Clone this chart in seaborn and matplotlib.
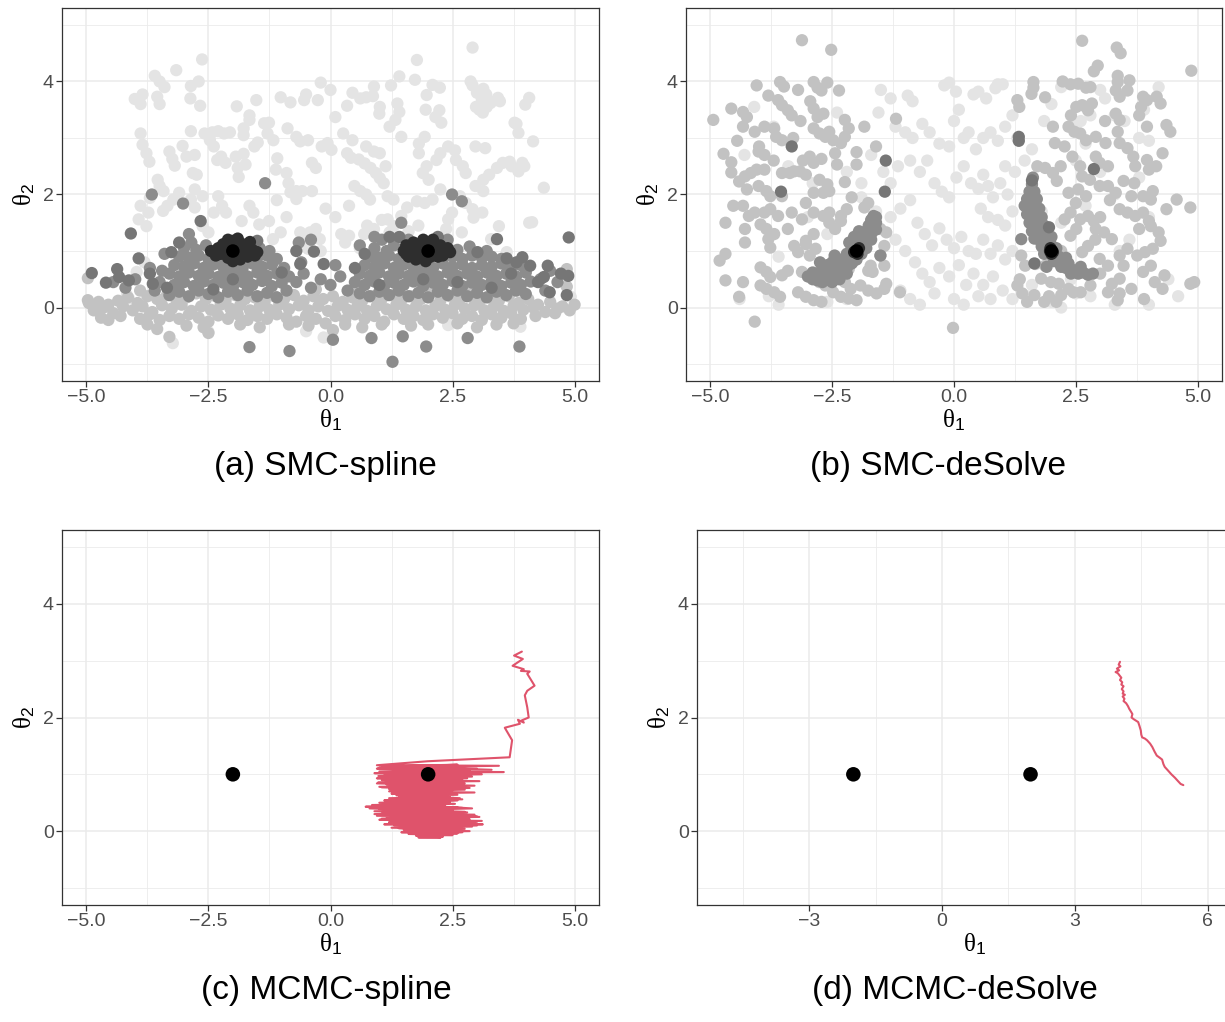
import numpy as np
import pandas as pd
import matplotlib
matplotlib.use("Agg")
import matplotlib.pyplot as plt
import seaborn as sns
from matplotlib.ticker import FixedLocator, FuncFormatter

# ---------------------------------------------------------------------------
# Particle clouds, SMC-spline (one list per SMC generation)
# ---------------------------------------------------------------------------
smc_spline_gen1 = [
    (2.91, 4.60), (-2.63, 4.39), (-3.16, 4.20), (1.77, 4.38), (-3.6, 4.1), (-3.5, 4.0), (-3.4, 3.9),
    (-2.7, 4.0), (-2.86, 3.92), (-0.2, 3.98), (0.0, 3.85), (1.41, 4.09), (1.24, 3.93), (1.73, 4.03),
    (2.09, 3.94), (2.24, 3.89), (2.87, 4.0), (2.91, 3.93), (3.0, 3.8), (3.13, 3.87), (3.19, 3.77),
    (3.43, 3.71), (3.47, 3.65), (4.07, 3.71), (3.99, 3.59), (-4.01, 3.69), (-3.85, 3.77), (-3.89, 3.6),
    (-3.55, 3.73), (-3.5, 3.6), (-2.87, 3.7), (-2.67, 3.57), (-1.92, 3.56), (-1.52, 3.67), (-1.02, 3.72),
    (-0.82, 3.63), (-0.5, 3.77), (-0.54, 3.67), (-0.26, 3.67), (0.34, 3.57), (0.45, 3.8), (0.61, 3.7),
    (0.73, 3.72), (0.87, 3.74), (0.89, 3.91), (1.01, 3.55), (1.0, 3.43), (1.37, 3.61), (1.41, 3.46),
    (1.33, 3.32), (1.97, 3.76), (1.95, 3.5), (2.15, 3.37), (2.27, 3.27), (2.23, 3.49), (2.98, 3.55),
    (3.05, 3.5), (3.12, 3.45), (3.2, 3.55), (3.28, 3.62), (3.1, 3.68), (3.77, 3.27), (3.81, 3.25),
    (3.85, 3.09), (4.15, 2.94), (3.93, 2.56), (3.97, 2.5), (3.85, 2.41), (3.67, 2.58), (3.71, 2.5),
    (4.37, 2.12), (4.07, 1.5), (4.13, 1.51), (-3.89, 3.08), (-3.85, 2.88), (-3.77, 2.73), (-3.71, 2.58),
    (-3.3, 2.76), (-3.24, 2.63), (-3.19, 2.51), (-3.03, 2.86), (-2.95, 2.67), (-2.78, 2.7), (-2.86, 3.12),
    (-2.58, 3.08), (-2.42, 3.1), (-2.3, 3.12), (-2.18, 3.08), (-2.06, 3.1), (-2.47, 2.96), (-2.39, 2.85),
    (-2.32, 2.61), (-2.24, 2.67), (-2.15, 2.56), (-1.94, 2.67), (-1.78, 2.72), (-1.74, 2.53), (-1.9, 2.47),
    (-1.88, 2.31), (-1.78, 3.17), (-1.78, 3.05), (-1.66, 3.32), (-1.66, 3.4), (-1.36, 3.26), (-1.26, 3.27),
    (-1.29, 3.08), (-1.17, 2.96), (-1.56, 2.85), (-1.49, 2.92), (-1.09, 2.64), (-1.12, 2.44), (-0.88, 3.17),
    (-0.7, 3.02), (-0.62, 2.94), (-0.46, 2.96), (-0.9, 2.38), (-0.86, 2.2), (-0.82, 2.04), (-0.7, 2.06),
    (-0.58, 2.06), (-0.38, 2.06), (-0.7, 1.92), (-0.38, 2.56), (-0.3, 2.47), (-0.18, 2.85), (-0.06, 2.91),
    (0.02, 2.79), (0.1, 3.37), (0.26, 3.08), (0.45, 2.96), (0.73, 2.85), (0.89, 2.76), (1.01, 2.73),
    (0.34, 2.73), (0.42, 2.65), (0.58, 2.62), (0.7, 2.55), (0.82, 2.47), (0.93, 2.38), (1.13, 2.5),
    (1.01, 2.29), (1.09, 2.2), (1.17, 1.97), (1.29, 1.91), (0.49, 2.15), (0.61, 2.06), (0.73, 2.0),
    (0.81, 1.91), (0.38, 1.8), (1.21, 3.2), (1.45, 3.02), (1.81, 2.9), (1.93, 3.02), (1.81, 2.73),
    (1.97, 2.5), (1.89, 2.38), (2.01, 2.26), (2.17, 2.61), (2.25, 2.73), (2.41, 2.85), (2.55, 2.78),
    (2.57, 2.61), (2.71, 2.5), (2.77, 2.38), (2.97, 2.85), (3.17, 2.82), (2.97, 2.15), (3.13, 2.06),
    (3.13, 2.26), (3.25, 2.35), (3.41, 2.47), (3.53, 2.56), (2.65, 1.97), (2.77, 1.85), (2.91, 1.74),
    (2.49, 1.68), (2.41, 1.56), (2.37, 1.39), (2.69, 1.33), (2.93, 1.59), (3.11, 1.68), (3.29, 1.21),
    (3.45, 1.44), (3.61, 0.98), (3.89, 0.27), (2.25, 2.09), (2.09, 1.91), (1.93, 1.85), (1.77, 1.88),
    (1.57, 1.77), (1.45, 1.62), (1.29, 1.44), (1.17, 1.56), (1.21, 1.33), (0.89, 1.39), (0.69, 1.3),
    (0.22, 1.3), (0.38, 1.27), (-0.3, 1.39), (-0.42, 1.33), (-0.62, 1.33), (-0.22, 1.21), (-0.46, 1.04),
    (-1.02, 1.33), (-1.18, 1.21), (-1.26, 1.53), (-1.58, 1.68), (-1.46, 1.47), (-1.66, 1.8), (-1.82, 1.53),
    (-2.14, 1.68), (-2.22, 1.8), (-2.39, 1.68), (-2.3, 1.97), (-2.62, 1.44), (-2.5, 1.33), (-2.78, 1.77),
    (-2.86, 1.91), (-2.78, 2.09), (-2.62, 1.97), (-2.82, 2.38), (-2.74, 2.35), (-3.1, 2.03), (-3.22, 1.91),
    (-3.34, 1.8), (-3.43, 1.71), (-3.5, 2.15), (-3.42, 2.06), (-3.54, 2.26), (-3.7, 1.94), (-3.73, 1.68),
    (-3.77, 1.44), (-3.89, 1.8), (-3.93, 1.56), (-3.81, 0.8), (-3.97, 0.63), (-4.13, 0.16), (-4.17, 0.22),
    (-3.23, -0.63), (-2.5, -0.43), (-0.5, -0.42), (-0.14, -0.53), (2.41, -0.31), (2.49, -0.13),
    (3.89, -0.34), (4.92, 0.19), (1.05, 1.55), (0.75, 1.45), (0.3, 1.15), (-0.2, 1.0), (-0.55, 1.15),
    (0.1, 1.6), (-0.1, 1.75), (0.6, 1.05), (-0.9, 1.6), (-1.1, 1.9), (1.6, 1.35), (1.8, 1.45),
]

smc_spline_gen2 = [
    (-4.95, 0.08), (-4.75, 0.1), (-4.55, 0.05), (-4.35, 0.12), (-4.15, 0.18), (-3.95, 0.08), (-3.75, 0.2),
    (-3.55, 0.15), (-3.35, 0.22), (-3.15, 0.12), (-2.95, 0.18), (-2.75, 0.25), (-2.55, 0.15), (-2.35, 0.2),
    (-2.15, 0.12), (-1.95, 0.22), (-1.75, 0.15), (-1.55, 0.18), (-1.35, 0.1), (-1.15, 0.2), (-0.95, 0.15),
    (-0.75, 0.22), (-0.55, 0.12), (-0.35, 0.2), (-0.15, 0.15), (0.05, 0.2), (0.25, 0.1), (0.45, 0.18),
    (0.65, 0.12), (0.85, 0.2), (1.05, 0.15), (1.25, 0.22), (1.45, 0.12), (1.65, 0.2), (1.85, 0.15),
    (2.05, 0.25), (2.25, 0.12), (2.45, 0.2), (2.65, 0.15), (2.85, 0.22), (3.05, 0.1), (3.25, 0.18),
    (3.45, 0.12), (3.65, 0.2), (3.85, 0.08), (4.05, 0.15), (4.25, 0.05), (4.5, 0.1), (4.75, 0.02),
    (5.0, 0.05),
    (-4.85, -0.05), (-4.65, 0.0), (-4.45, -0.1), (-4.25, 0.02), (-4.05, -0.05), (-3.85, 0.02),
    (-3.65, -0.08), (-3.45, 0.04), (-3.25, -0.02), (-3.05, 0.05), (-2.85, -0.06), (-2.65, 0.02),
    (-2.45, -0.04), (-2.25, 0.05), (-2.05, -0.02), (-1.85, 0.04), (-1.65, -0.05), (-1.45, 0.02),
    (-1.25, -0.04), (-1.05, 0.05), (-0.85, -0.03), (-0.65, 0.04), (-0.45, -0.05), (-0.25, 0.02),
    (-0.05, -0.06), (0.15, 0.03), (0.35, -0.04), (0.55, 0.02), (0.75, -0.06), (0.95, 0.03), (1.15, -0.03),
    (1.35, 0.05), (1.55, -0.04), (1.75, 0.02), (1.95, -0.05), (2.15, 0.03), (2.35, -0.04), (2.55, 0.05),
    (2.75, -0.02), (2.95, 0.04), (3.15, -0.05), (3.35, 0.02), (3.55, -0.06), (3.75, 0.03), (3.95, -0.04),
    (4.15, 0.0), (4.4, -0.08), (4.65, -0.02), (4.9, -0.05),
    (-4.7, -0.18), (-4.3, -0.15), (-3.9, -0.2), (-3.7, -0.12), (-3.5, -0.22), (-3.3, -0.15), (-3.1, -0.2),
    (-2.9, -0.12), (-2.7, -0.18), (-2.5, -0.25), (-2.3, -0.14), (-2.1, -0.2), (-1.9, -0.12), (-1.7, -0.22),
    (-1.5, -0.15), (-1.3, -0.2), (-1.1, -0.12), (-0.9, -0.18), (-0.7, -0.25), (-0.5, -0.15), (-0.3, -0.2),
    (-0.1, -0.28), (0.1, -0.15), (0.3, -0.22), (0.5, -0.12), (0.7, -0.2), (0.9, -0.15), (1.1, -0.25),
    (1.3, -0.12), (1.5, -0.2), (1.7, -0.15), (1.9, -0.22), (2.1, -0.12), (2.3, -0.18), (2.5, -0.1),
    (2.7, -0.2), (2.9, -0.15), (3.1, -0.22), (3.3, -0.12), (3.5, -0.18), (3.7, -0.1), (3.9, -0.2),
    (4.2, -0.15), (4.6, -0.1),
    (-4.55, -0.22), (-3.75, -0.3), (-3.55, -0.38), (-2.95, -0.32), (-2.6, -0.35), (-1.85, -0.3),
    (-1.45, -0.35), (-0.85, -0.3), (-0.45, -0.32), (0.05, -0.4), (0.3, -0.3), (0.65, -0.35), (1.05, -0.3),
    (1.65, -0.32), (2.0, -0.3), (2.6, -0.28), (3.0, -0.35), (3.4, -0.3), (3.75, -0.28), (-3.3, -0.52),
    (-2.5, -0.45), (-4.97, 0.52), (-4.97, 0.13), (4.86, 0.57), (4.84, 0.37), (4.84, 0.68), (-3.9, 0.3),
    (-0.3, 0.32), (0.5, 0.35), (2.9, 0.35),
]

smc_spline_gen3 = [
    (-3.3, 0.22), (-3.1, 0.28), (-2.9, 0.2), (-2.7, 0.3), (-2.5, 0.24), (-2.3, 0.18), (-2.1, 0.28),
    (-1.9, 0.22), (-1.7, 0.3), (-1.5, 0.2), (-1.3, 0.26), (-1.1, 0.18), (-0.9, 0.3),
    (-3.2, 0.4), (-3.0, 0.45), (-2.8, 0.38), (-2.6, 0.46), (-2.4, 0.4), (-2.2, 0.44), (-2.0, 0.36),
    (-1.8, 0.45), (-1.6, 0.4), (-1.4, 0.47), (-1.2, 0.38), (-1.0, 0.44),
    (-3.3, 0.6), (-3.1, 0.55), (-2.9, 0.62), (-2.7, 0.56), (-2.5, 0.6), (-2.3, 0.54), (-2.1, 0.62),
    (-1.9, 0.58), (-1.7, 0.55), (-1.5, 0.62), (-1.3, 0.56), (-1.1, 0.6), (-0.85, 0.55),
    (-3.2, 0.75), (-3.0, 0.72), (-2.8, 0.78), (-2.6, 0.7), (-2.4, 0.76), (-2.2, 0.72), (-2.0, 0.75),
    (-1.8, 0.7), (-1.6, 0.78), (-1.4, 0.72), (-1.2, 0.76), (-0.95, 0.7),
    (-3.1, 0.9), (-2.9, 0.88), (-2.7, 0.92), (-2.5, 0.86), (-2.3, 0.9), (-1.5, 0.88), (-1.3, 0.92),
    (-1.1, 0.86), (-3.0, 1.05), (-2.75, 1.02), (-2.55, 1.1), (-1.45, 1.05), (-1.25, 1.0), (-2.85, 1.15),
    (0.6, 0.25), (0.8, 0.2), (1.0, 0.28), (1.2, 0.22), (1.4, 0.3), (1.6, 0.2), (1.8, 0.26), (2.0, 0.18),
    (2.2, 0.28), (2.4, 0.22), (2.6, 0.3), (2.8, 0.2), (3.0, 0.26), (3.2, 0.18), (3.4, 0.28), (3.6, 0.22),
    (3.8, 0.3), (4.0, 0.24),
    (0.5, 0.45), (0.7, 0.4), (0.9, 0.46), (1.1, 0.38), (1.3, 0.44), (1.5, 0.4), (1.7, 0.46), (1.9, 0.38),
    (2.1, 0.44), (2.3, 0.4), (2.5, 0.47), (2.7, 0.38), (2.9, 0.44), (3.1, 0.4), (3.3, 0.46), (3.5, 0.38),
    (3.7, 0.44), (3.9, 0.4), (4.1, 0.46),
    (0.6, 0.6), (0.8, 0.56), (1.0, 0.62), (1.2, 0.55), (1.4, 0.6), (1.6, 0.56), (1.8, 0.62), (2.0, 0.58),
    (2.2, 0.55), (2.4, 0.62), (2.6, 0.56), (2.8, 0.6), (3.0, 0.55), (3.2, 0.62), (3.4, 0.56), (3.6, 0.6),
    (3.8, 0.55), (4.0, 0.62),
    (0.7, 0.75), (0.9, 0.72), (1.1, 0.78), (1.3, 0.7), (1.5, 0.76), (1.7, 0.72), (1.9, 0.75), (2.1, 0.7),
    (2.3, 0.78), (2.5, 0.72), (2.7, 0.76), (2.9, 0.7), (3.1, 0.75), (3.3, 0.72), (3.5, 0.78), (3.7, 0.7),
    (3.9, 0.75),
    (0.8, 0.9), (1.0, 0.88), (1.2, 0.92), (1.4, 0.86), (2.5, 0.9), (2.7, 0.86), (2.9, 0.92), (3.1, 0.88),
    (3.3, 0.9), (3.5, 0.86), (0.9, 1.05), (1.15, 1.0), (1.3, 1.1), (2.6, 1.02), (2.85, 1.08), (3.2, 1.0),
    (1.05, 1.2),
    (-3.5, 0.45), (-3.6, 0.3), (-3.45, 0.65), (-3.7, 0.7), (-4.0, 0.5), (-4.2, 0.35), (-4.45, 0.45),
    (-0.7, 0.45), (-0.55, 0.6), (-0.4, 0.35), (-0.2, 0.5), (0.0, 0.4), (0.2, 0.55), (0.35, 0.3),
    (-0.6, 0.8), (0.1, 0.75), (4.3, 0.5), (4.4, 0.3), (4.5, 0.65), (4.65, 0.45), (-0.65, 1.15),
    (-0.4, 1.2), (0.6, 1.1), (0.9, 1.25), (1.6, 1.2), (2.4, 1.2), (-3.4, 0.95), (-2.9, 1.3),
    (-1.66, -0.7), (-0.84, -0.77), (0.05, -0.57), (0.84, -0.54), (1.27, -0.96), (1.48, -0.51),
    (1.96, -0.69), (2.81, -0.54), (3.87, -0.69), (2.49, 2.0), (2.69, 1.88), (1.45, 1.5), (-1.34, 2.2),
    (-3.02, 1.84), (-3.66, 2.0),
]

smc_spline_gen4 = [
    (-4.89, 0.61), (-4.6, 0.44), (-4.37, 0.68), (-4.33, 0.54), (-4.13, 0.48), (-3.93, 0.87), (-4.09, 1.31),
    (-3.64, 0.42), (4.45, 0.74), (4.72, 0.6), (4.87, 0.56), (4.49, 0.27), (4.84, 0.22), (4.88, 1.24),
    (4.09, 0.74), (3.81, 0.8), (3.93, 0.89), (4.25, 0.45), (4.37, 0.54), (3.61, 0.87), (3.41, 1.21),
    (3.01, 0.98), (1.21, 1.25), (1.41, 1.25), (-0.14, 0.77), (-0.62, 0.77), (-0.7, 1.0), (-0.34, 0.99),
    (-1.5, 1.18), (-3.26, 0.98), (-3.1, 1.15), (-2.66, 1.53), (-3.7, 0.6), (-3.35, 0.35), (-2.4, 0.32),
    (-1.0, 0.62), (0.7, 0.95), (1.9, 0.5), (2.6, 0.45), (3.3, 0.35), (-2.0, 0.5), (0.5, 0.7), (2.2, 1.25),
    (1.0, 0.4), (3.7, 0.6),
]

smc_spline_gen5 = [
    (-2.45, 1.0), (-2.3, 1.05), (-2.2, 1.12), (-2.1, 1.2), (-2.0, 1.18), (-1.9, 1.14), (-1.8, 1.12),
    (-1.7, 1.08), (-1.6, 1.02), (-1.5, 0.98), (-1.55, 0.92), (-1.7, 0.9), (-1.85, 0.85), (-2.0, 0.82),
    (-2.1, 0.88), (-2.25, 0.95), (-2.15, 1.0), (-2.0, 1.0), (-1.85, 1.0), (-1.75, 0.98), (-1.95, 0.92),
    (-2.05, 1.08), (-1.9, 1.22), (-2.35, 0.92), (-1.65, 1.16),
    (1.5, 1.0), (1.55, 1.1), (1.6, 0.9), (1.7, 1.15), (1.75, 0.85), (1.8, 1.08), (1.9, 1.2), (1.95, 0.82),
    (2.0, 1.1), (2.05, 0.9), (2.1, 1.2), (2.15, 1.0), (2.2, 0.9), (2.25, 1.1), (2.35, 1.0), (2.45, 0.98),
    (1.65, 1.0), (1.85, 0.95), (2.0, 1.0), (2.3, 0.92), (1.7, 0.95), (2.1, 1.08), (1.95, 1.05),
    (1.55, 0.95), (2.4, 1.05),
]

# ---------------------------------------------------------------------------
# Particle clouds, SMC-deSolve
# ---------------------------------------------------------------------------
smc_desolve_gen1 = [
    (-0.2, 3.93), (-0.1, 3.98), (0.04, 3.82), (0.4, 3.77), (0.5, 3.82), (0.66, 3.7), (0.85, 3.88),
    (0.9, 3.95), (1.0, 3.95), (-0.95, 3.75), (-0.85, 3.65), (-1.5, 3.85), (-1.3, 3.7), (-1.55, 3.45),
    (-1.2, 3.2), (-1.0, 3.1), (-0.85, 3.0), (-0.65, 3.25), (-0.5, 3.1), (-0.3, 2.9), (-0.1, 2.85),
    (0.0, 3.3), (0.1, 3.5), (0.2, 3.0), (0.3, 3.1), (0.45, 2.8), (0.6, 3.0), (0.75, 3.1), (0.9, 2.95),
    (1.05, 3.2), (1.2, 3.4), (1.3, 3.0), (1.45, 2.6), (1.6, 2.8), (1.85, 3.3), (2.0, 3.6), (2.2, 3.9),
    (2.45, 3.2), (2.6, 3.3), (2.7, 2.9), (2.8, 3.4), (3.0, 3.85), (3.1, 3.7), (3.3, 3.4), (3.5, 3.3),
    (3.8, 3.0), (4.0, 2.95),
    (-1.7, 2.7), (-1.45, 2.4), (-1.3, 2.2), (-1.15, 2.5), (-0.9, 2.6), (-0.7, 2.4), (-0.55, 2.6),
    (-0.4, 2.2), (-0.25, 2.05), (-0.1, 1.95), (0.05, 2.3), (0.2, 2.5), (0.35, 2.2), (0.5, 2.1),
    (0.6, 2.35), (0.7, 2.15), (0.8, 1.95), (0.95, 2.2), (1.1, 2.0), (1.25, 2.4), (1.05, 2.5), (0.55, 1.75),
    (0.7, 1.6), (0.9, 1.55), (1.05, 1.45), (1.2, 1.7),
    (-1.9, 1.95), (-1.6, 1.7), (-1.3, 1.6), (-1.1, 1.75), (-0.9, 1.9), (-0.75, 1.5), (-0.6, 1.3),
    (-0.45, 1.1), (-0.3, 1.4), (-0.15, 1.2), (0.0, 1.05), (0.15, 1.25), (0.3, 1.0), (0.45, 0.95),
    (0.6, 1.2), (0.75, 0.95), (0.9, 1.1), (1.05, 0.85), (1.2, 1.0), (-1.2, 1.2), (-1.0, 1.0), (-0.8, 0.8),
    (-0.65, 0.6), (-0.5, 0.45), (-0.3, 0.7), (-0.1, 0.55), (0.1, 0.75), (0.25, 0.4), (0.4, 0.6),
    (0.6, 0.4), (0.8, 0.55), (1.0, 0.3), (-1.1, 0.3), (-0.9, 0.15), (-0.7, 0.05), (-0.4, 0.25),
    (0.0, 0.15), (0.2, 0.05), (0.5, 0.2), (0.75, 0.15), (1.2, 0.15), (1.5, 0.2), (2.0, 0.1), (2.2, 0.0),
    (2.5, 0.25), (2.8, 0.2), (3.3, 0.05), (4.0, 0.05), (-2.2, 0.15), (-2.6, 0.1), (-3.6, 0.05),
    (-3.8, 0.2), (-4.4, 0.15),
    (-4.1, 3.55), (-3.7, 3.2), (-3.4, 2.5), (-2.9, 2.2), (-2.4, 3.45), (-2.6, 1.3), (-3.6, 0.9),
    (-3.0, 1.6), (-4.3, 2.7), (-2.2, 2.4), (-1.9, 2.2), (3.0, 2.4), (3.3, 2.0), (3.6, 1.2), (4.0, 1.6),
    (3.8, 2.3), (3.4, 1.0), (2.7, 1.8), (2.5, 2.6), (4.2, 3.9), (3.9, 3.5), (2.4, 0.5), (1.6, 0.4),
    (1.8, 1.7), (2.2, 1.5), (4.4, 0.5), (4.6, 0.2),
]

smc_desolve_gen2 = [
    (-3.12, 4.73), (-2.52, 4.56), (-4.05, 3.93), (-3.57, 3.99), (-3.49, 3.91), (-2.88, 3.99), (-2.8, 3.89),
    (-2.72, 3.84), (-2.6, 3.98), (-2.36, 3.84), (-3.81, 3.75), (-3.61, 3.67), (-3.53, 3.58), (-3.41, 3.49),
    (-3.33, 3.4), (-4.57, 3.52), (-4.33, 3.46), (-4.25, 3.37), (-4.33, 3.2), (-4.94, 3.32), (-4.09, 3.11),
    (-3.89, 3.2), (-3.69, 3.17), (-3.65, 3.02), (-3.53, 2.96), (-2.88, 3.52), (-2.8, 3.37), (-2.68, 3.43),
    (-2.88, 3.17), (-2.76, 3.08), (-2.64, 3.02), (-2.56, 3.11), (-2.48, 2.96), (-2.24, 3.32), (-2.16, 3.17),
    (-2.24, 3.02), (-2.32, 2.91), (-1.84, 3.2), (-4.0, 2.85), (-4.01, 2.76), (-3.89, 2.7), (-4.73, 2.72),
    (-4.57, 2.57), (-4.57, 2.39), (-4.41, 2.23), (-4.29, 2.32), (-4.17, 2.38), (-4.05, 2.44), (-3.89, 2.44),
    (-3.53, 2.38), (-3.37, 2.38), (-3.28, 2.41), (-3.16, 2.41), (-3.04, 2.35), (-2.96, 2.67), (-2.88, 2.56),
    (-2.72, 2.63), (-2.44, 2.73), (-2.4, 2.53), (-2.0, 2.53), (-2.24, 2.22), (-2.76, 2.26), (-2.6, 2.18),
    (-2.88, 2.03), (-2.68, 2.03), (-2.56, 2.06), (-4.25, 2.09), (-4.01, 2.15), (-3.85, 2.06), (-3.77, 1.97),
    (-3.53, 1.97), (-4.53, 1.8), (-4.33, 1.8), (-4.21, 1.62), (-4.09, 1.68), (-3.89, 1.68), (-3.77, 1.74),
    (-3.61, 1.62), (-3.33, 1.68), (-4.69, 1.5), (-4.29, 1.39), (-3.97, 1.47), (-3.85, 1.39), (-3.69, 1.3),
    (-3.41, 1.39), (-4.29, 1.15), (-3.81, 1.21), (-3.77, 1.06), (-3.28, 1.09), (-3.04, 1.12), (-2.84, 1.04),
    (-3.2, 0.98), (-2.96, 0.92), (-4.81, 0.83), (-4.69, 0.95), (-3.97, 0.71), (-3.85, 0.63), (-3.77, 0.54),
    (-3.53, 0.57), (-3.41, 0.65), (-3.12, 0.63), (-2.88, 0.54), (-2.76, 0.45), (-2.64, 0.39), (-4.69, 0.48),
    (-4.33, 0.45), (-3.97, 0.39), (-3.85, 0.33), (-3.69, 0.27), (-3.57, 0.19), (-4.41, 0.19), (-4.09, -0.25),
    (-3.2, 0.27), (-3.04, 0.19), (-2.88, 0.13), (-2.72, 0.1), (-2.48, 0.27), (-2.32, 0.19), (-2.16, 0.16),
    (-2.0, 0.13), (-2.56, 0.51), (-2.24, 0.45), (-2.12, 0.33), (-1.92, 0.39), (-1.76, 0.3), (-1.59, 0.25),
    (-1.43, 0.33), (-1.39, 0.42), (-1.67, 0.63), (-1.71, 0.74), (-1.51, 0.92), (-1.43, 1.09), (-1.39, 1.33),
    (-1.51, 1.39), (-1.76, 0.65), (-1.43, 0.74), (-1.11, 0.27), (-2.16, 0.68), (-2.08, 0.8), (-3.04, 1.18),
    (-2.88, 1.3), (-2.56, 1.5), (-2.44, 1.39), (-2.32, 1.62), (-2.32, 1.53), (-2.2, 1.74), (-2.56, 1.68),
    (-2.68, 1.62), (-3.04, 1.85), (-2.88, 1.68), (-3.12, 1.56), (-1.84, 1.77), (-1.76, 1.85), (-1.19, 3.34),
    (-2.0, 2.75), (-1.6, 2.85), (-2.1, 1.95), (-3.3, 3.0), (-3.1, 2.6), (-3.7, 2.6), (-4.45, 2.95),
    (-3.15, 3.3), (-2.95, 3.65), (-3.2, 3.85), (-0.02, -0.36),
    (2.63, 4.72), (3.34, 4.6), (3.42, 4.5), (2.95, 4.28), (2.87, 4.18), (4.87, 4.19), (1.63, 3.99),
    (1.63, 3.89), (1.59, 3.78), (1.87, 3.72), (2.23, 4.0), (2.39, 3.95), (2.55, 3.96), (2.71, 3.89),
    (2.51, 3.55), (2.63, 3.58), (2.75, 3.49), (2.83, 3.61), (3.36, 4.1), (3.36, 3.99), (3.32, 3.84),
    (3.4, 3.73), (3.6, 4.02), (3.56, 3.84), (3.88, 3.73), (3.96, 3.67), (3.84, 3.55), (3.8, 3.4),
    (4.16, 3.73), (4.24, 3.61), (4.36, 3.23), (4.44, 3.11), (3.96, 3.2), (3.32, 3.43), (3.4, 3.32),
    (3.36, 3.11), (1.3, 3.67), (1.34, 3.55), (2.03, 3.2), (2.07, 2.91), (2.27, 2.85), (2.35, 3.2),
    (2.47, 3.11), (2.59, 3.08), (2.71, 2.96), (2.91, 3.02), (3.11, 2.91), (3.4, 2.91), (3.56, 2.82),
    (3.68, 2.67), (3.96, 2.61), (4.28, 2.73), (4.0, 2.44), (3.72, 2.5), (2.91, 2.67), (2.99, 2.56),
    (3.16, 2.5), (2.43, 2.67), (2.59, 2.5), (2.63, 2.32), (2.79, 2.26), (2.19, 2.5), (2.03, 2.38),
    (2.11, 2.24), (1.71, 2.5), (1.87, 2.47), (2.35, 2.03), (2.55, 2.09), (2.71, 1.97), (2.99, 2.15),
    (3.16, 2.15), (3.32, 2.03), (3.48, 2.24), (3.64, 1.97), (3.88, 1.97), (4.08, 2.06), (4.04, 1.91),
    (4.57, 1.91), (4.36, 1.74), (4.85, 1.77), (3.4, 1.74), (3.56, 1.68), (3.72, 1.62), (3.8, 1.39),
    (4.04, 1.44), (4.2, 1.33), (3.88, 1.68), (4.0, 1.53), (4.24, 1.18), (4.08, 1.04), (3.92, 0.98),
    (3.76, 0.92), (3.56, 1.04), (3.4, 0.92), (3.48, 0.74), (2.99, 0.86), (3.16, 0.74), (3.24, 1.21),
    (3.08, 1.33), (2.91, 1.39), (2.75, 1.62), (2.87, 1.53), (2.59, 1.56), (2.39, 1.68), (2.27, 1.56),
    (2.51, 1.39), (2.39, 1.27), (2.75, 1.09), (2.63, 0.98), (4.04, 0.74), (3.88, 0.63), (4.32, 0.57),
    (4.12, 0.45), (4.28, 0.33), (4.85, 0.42), (4.93, 0.45), (3.4, 0.51), (3.24, 0.42), (3.16, 0.27),
    (3.36, 0.13), (3.4, 0.25), (3.64, 0.33), (2.8, 0.39), (2.6, 0.27), (2.45, 0.27), (2.35, 0.33),
    (2.2, 0.22), (2.1, 0.1), (1.85, 0.1), (1.95, 0.2), (1.65, 0.22), (1.5, 0.1), (1.4, 0.25), (1.3, 0.39),
    (1.35, 0.5), (1.38, 0.92), (1.46, 0.74), (1.79, 0.51), (1.99, 0.45), (2.15, 0.42), (1.67, 0.77),
    (1.87, 0.74), (3.0, 0.6), (2.9, 1.2), (3.7, 2.2), (4.15, 2.5), (3.2, 1.9), (2.5, 1.85), (3.0, 1.6),
    (2.8, 3.9), (2.4, 3.4), (3.1, 3.3), (2.2, 1.0), (3.9, 0.15),
]

smc_desolve_gen3 = [
    (-3.0, 0.55), (-2.9, 0.5), (-2.9, 0.62), (-2.8, 0.48), (-2.8, 0.6), (-2.7, 0.45), (-2.7, 0.58),
    (-2.7, 0.7), (-2.6, 0.5), (-2.6, 0.62), (-2.6, 0.75), (-2.5, 0.45), (-2.5, 0.58), (-2.5, 0.7),
    (-2.5, 0.8), (-2.4, 0.55), (-2.4, 0.68), (-2.4, 0.8), (-2.3, 0.6), (-2.3, 0.72), (-2.3, 0.85),
    (-2.2, 0.7), (-2.2, 0.82), (-2.2, 0.95), (-2.1, 0.78), (-2.1, 0.9), (-2.1, 1.05), (-2.0, 0.85),
    (-2.0, 1.0), (-2.0, 1.12), (-1.9, 0.95), (-1.9, 1.1), (-1.9, 1.22), (-1.85, 1.3), (-1.8, 1.05),
    (-1.8, 1.2), (-1.8, 1.35), (-1.75, 1.45), (-1.7, 1.2), (-1.7, 1.3), (-1.7, 1.45), (-1.7, 1.55),
    (-1.65, 1.62), (-1.6, 1.38), (-1.6, 1.5), (-1.6, 1.6), (-2.15, 1.15), (-2.45, 0.92), (-2.75, 0.8),
    (-1.95, 1.35), (-2.05, 1.25), (-2.35, 0.5), (-2.2, 0.6), (-1.51, 0.92),
    (1.62, 2.3), (1.6, 2.18), (1.55, 2.05), (1.65, 2.05), (1.5, 1.92), (1.6, 1.9), (1.7, 1.92),
    (1.45, 1.8), (1.55, 1.78), (1.65, 1.78), (1.75, 1.75), (1.5, 1.65), (1.6, 1.62), (1.7, 1.62),
    (1.8, 1.6), (1.55, 1.5), (1.65, 1.48), (1.75, 1.48), (1.85, 1.45), (1.6, 1.35), (1.7, 1.35),
    (1.8, 1.33), (1.9, 1.32), (1.65, 1.22), (1.75, 1.2), (1.85, 1.2), (1.95, 1.18), (1.8, 1.08),
    (1.9, 1.08), (2.0, 1.1), (2.1, 1.05), (1.85, 0.95), (1.95, 0.95), (2.05, 0.92), (2.15, 0.9),
    (2.05, 0.82), (2.15, 0.8), (2.25, 0.82), (2.35, 0.78), (2.2, 0.72), (2.3, 0.7), (2.4, 0.68),
    (2.5, 0.65), (2.4, 0.6), (2.55, 0.6), (2.65, 0.62), (2.75, 0.58), (2.85, 0.6), (2.6, 0.72),
    (2.3, 0.88), (2.0, 1.25), (1.38, 1.21), (1.9, 0.72),
]

smc_desolve_gen4 = [
    (-3.33, 2.85), (-3.55, 2.05), (-1.4, 2.6), (-1.42, 2.05), (1.33, 2.95), (1.33, 3.02), (2.87, 2.45),
    (1.6, 2.25), (1.65, 0.78), (1.95, 1.42),
]

smc_desolve_gen5 = [
    (-2.0, 1.0), (-1.95, 1.05), (-2.05, 0.98), (-1.98, 0.95), (1.98, 1.05), (2.03, 0.98), (2.0, 0.95),
    (1.97, 1.0),
]

# ---------------------------------------------------------------------------
# MCMC chains (theta1, theta2) in visiting order
# ---------------------------------------------------------------------------
mcmc_spline_chain = [
    (3.92, 3.16), (3.76, 3.09), (3.94, 3.03), (3.73, 2.91), (3.96, 2.85), (3.9, 2.82), (4.08, 2.81),
    (4.03, 2.77), (4.18, 2.56), (4.03, 2.47), (3.98, 2.39), (4.03, 2.18), (4.06, 2.0), (3.92, 1.95),
    (3.96, 1.91), (3.84, 1.96), (3.88, 1.89), (3.57, 1.82), (3.72, 1.6), (3.67, 1.3),
    (1.99, 1.23), (0.95, 1.16), (3.45, 1.15), (1.05, 1.12), (3.0, 1.1), (1.0, 1.05), (3.55, 1.04),
    (0.9, 1.02), (2.7, 1.0), (1.1, 0.98), (2.9, 0.96), (0.95, 0.93), (2.6, 0.92), (1.05, 0.9), (3.05, 0.88),
    (0.98, 0.86), (2.75, 0.84), (1.15, 0.82), (2.55, 0.8), (1.0, 0.78), (2.85, 0.76), (1.2, 0.74),
    (2.5, 0.72), (1.3, 0.7), (2.95, 0.68), (1.25, 0.66), (2.6, 0.64), (1.4, 0.62), (2.45, 0.6), (1.2, 0.58),
    (2.7, 0.56), (1.1, 0.54), (2.4, 0.52), (1.0, 0.5), (2.55, 0.48), (0.85, 0.46), (2.35, 0.44),
    (0.72, 0.43), (2.7, 0.41), (1.0, 0.39), (2.5, 0.37), (0.9, 0.35), (2.8, 0.33), (1.05, 0.31),
    (2.95, 0.29), (0.95, 0.27), (3.05, 0.25), (1.15, 0.23), (2.85, 0.21), (1.0, 0.2), (3.1, 0.18),
    (1.2, 0.16), (3.0, 0.14), (1.1, 0.12), (3.12, 0.12), (1.3, 0.1), (2.9, 0.08), (1.25, 0.06), (2.75, 0.04),
    (1.5, 0.02), (2.85, 0.0), (1.45, -0.02), (2.6, -0.04), (1.6, -0.05), (2.5, -0.07), (1.75, -0.08),
    (2.3, -0.1), (1.8, -0.11), (2.25, -0.12), (1.9, -0.06),
    (2.7, -0.02), (1.4, 0.05), (3.0, 0.1), (1.2, 0.14), (2.95, 0.17), (1.05, 0.22), (3.0, 0.26), (0.9, 0.3),
    (2.75, 0.34), (0.8, 0.4), (2.6, 0.42), (1.1, 0.45), (2.45, 0.5), (1.25, 0.55), (2.65, 0.58),
    (1.35, 0.63), (2.55, 0.66), (1.2, 0.7), (2.75, 0.73), (1.05, 0.77), (2.95, 0.8), (0.95, 0.84),
    (2.6, 0.87), (1.1, 0.9), (2.8, 0.93), (0.98, 0.97), (3.1, 1.0), (1.05, 1.03), (2.85, 1.06),
    (0.95, 1.1), (3.3, 1.08), (1.1, 1.14), (2.6, 1.17), (1.0, 1.12), (2.9, 1.02), (1.15, 0.95), (2.7, 0.9),
    (1.3, 0.85), (2.5, 0.78), (1.4, 0.72), (2.35, 0.66), (1.5, 0.6), (2.6, 0.54), (1.3, 0.48), (2.9, 0.4),
    (1.15, 0.36), (2.7, 0.28), (1.35, 0.22), (2.85, 0.16), (1.55, 0.1), (2.6, 0.06), (1.7, 0.0),
    (2.45, -0.05), (1.85, -0.09), (2.1, 0.3), (1.9, 0.6), (2.1, 1.0),
]

mcmc_desolve_chain = [
    (4.02, 2.98), (3.99, 2.93), (4.03, 2.9), (3.95, 2.86), (4.0, 2.83), (3.92, 2.8), (3.97, 2.78),
    (4.01, 2.74), (4.05, 2.7), (4.02, 2.66), (4.07, 2.62), (4.05, 2.58), (4.1, 2.55), (4.06, 2.5),
    (4.1, 2.46), (4.08, 2.42), (4.13, 2.4), (4.08, 2.37), (4.12, 2.33), (4.1, 2.29), (4.16, 2.25),
    (4.2, 2.2), (4.23, 2.15), (4.27, 2.1), (4.3, 2.06), (4.28, 2.0), (4.33, 1.97), (4.37, 1.95),
    (4.43, 1.92), (4.46, 1.85), (4.49, 1.77), (4.5, 1.7), (4.52, 1.65), (4.58, 1.63), (4.63, 1.6),
    (4.7, 1.54), (4.75, 1.48), (4.8, 1.4), (4.85, 1.33), (4.92, 1.29), (4.97, 1.26), (5.0, 1.18),
    (5.03, 1.13), (5.1, 1.07), (5.18, 1.0), (5.26, 0.94), (5.33, 0.88), (5.39, 0.83), (5.45, 0.81),
]

# true parameter values
true_theta1 = [-2.0, 2.0]
true_theta2 = [1.0, 1.0]

# panel captions and axis ticks
captions = ["(a) SMC-spline", "(b) SMC-deSolve", "(c) MCMC-spline", "(d) MCMC-deSolve"]
x_major_wide = [-5.0, -2.5, 0.0, 2.5, 5.0]
x_minor_wide = [-3.75, -1.25, 1.25, 3.75]
x_major_d = [-3, 0, 3, 6]
x_minor_d = [-4.5, -1.5, 1.5, 4.5]
y_major = [0, 2, 4]
y_minor = [-1, 1, 3, 5]

gen_colors = ["#E4E4E4", "#C2C2C2", "#8C8C8C", "#767676", "#2E2E2E"]
chain_color = "#DF536B"

# ---------------------------------------------------------------------------
sns.set_theme(style="white")
plt.rcParams["font.family"] = ["Liberation Sans", "DejaVu Sans"]
plt.rcParams["mathtext.fontset"] = "custom"
plt.rcParams["mathtext.rm"] = "Liberation Serif"
plt.rcParams["mathtext.it"] = "Liberation Serif:italic"
plt.rcParams["mathtext.sf"] = "Liberation Sans"

W, H = 1225, 1022
fig = plt.figure(figsize=(W / 100, H / 100), dpi=100)
fig.patch.set_facecolor("white")


def px_axes(left, top, right, bottom):
    return fig.add_axes([left / W, 1 - bottom / H, (right - left) / W, (bottom - top) / H])


def tick_fmt(fmt):
    return FuncFormatter(lambda v, _: (fmt % v).replace("-", "\u2212"))


def style(ax, xlim, xmaj, xmin, fmt):
    ax.set_xlim(*xlim)
    ax.set_ylim(-1.3, 5.3)
    ax.xaxis.set_major_locator(FixedLocator(xmaj))
    ax.xaxis.set_minor_locator(FixedLocator(xmin))
    ax.yaxis.set_major_locator(FixedLocator(y_major))
    ax.yaxis.set_minor_locator(FixedLocator(y_minor))
    ax.xaxis.set_major_formatter(tick_fmt(fmt))
    ax.yaxis.set_major_formatter(tick_fmt("%d"))
    ax.set_axisbelow(True)
    ax.grid(which="major", color="#EBEBEB", lw=1.1)
    ax.grid(which="minor", color="#EBEBEB", lw=0.6)
    for sp in ax.spines.values():
        sp.set_color("#333333")
        sp.set_linewidth(0.9)
    ax.tick_params(which="major", length=4, width=0.9, color="#333333",
                   labelsize=14, labelcolor="#4D4D4D", pad=2,
                   bottom=True, left=True)
    ax.tick_params(which="minor", length=0)
    ax.set_xlabel(r"$\mathrm{θ}_{\mathsf{1}}$", fontsize=18, color="black", labelpad=1)
    ax.set_ylabel(r"$\mathrm{θ}_{\mathsf{2}}$", fontsize=18, color="black", labelpad=4)


def scatter_layers(ax, layers):
    for pts, col in zip(layers, gen_colors):
        arr = np.array(pts)
        sns.scatterplot(x=arr[:, 0], y=arr[:, 1], ax=ax, color=col, s=78,
                        linewidth=0, edgecolor="none", legend=False)
    sns.scatterplot(x=true_theta1, y=true_theta2, ax=ax, color="black", s=95,
                    linewidth=0, edgecolor="none", legend=False, zorder=5)


def chain(ax, pts, lw):
    df = pd.DataFrame(pts, columns=["theta1", "theta2"])
    sns.lineplot(data=df, x="theta1", y="theta2", ax=ax, sort=False, estimator=None,
                 color=chain_color, lw=lw)
    sns.scatterplot(x=true_theta1, y=true_theta2, ax=ax, color="black", s=110,
                    linewidth=0, edgecolor="none", legend=False, zorder=5)


ax_a = px_axes(62, 8, 599, 381)
scatter_layers(ax_a, [smc_spline_gen1, smc_spline_gen2, smc_spline_gen3,
                      smc_spline_gen4, smc_spline_gen5])
style(ax_a, (-5.5, 5.5), x_major_wide, x_minor_wide, "%.1f")

ax_b = px_axes(686, 8, 1222, 381)
scatter_layers(ax_b, [smc_desolve_gen1, smc_desolve_gen2, smc_desolve_gen3,
                      smc_desolve_gen4, smc_desolve_gen5])
style(ax_b, (-5.5, 5.5), x_major_wide, x_minor_wide, "%.1f")

ax_c = px_axes(62, 530, 599, 905)
chain(ax_c, mcmc_spline_chain, 1.5)
style(ax_c, (-5.5, 5.5), x_major_wide, x_minor_wide, "%.1f")

ax_d = px_axes(697, 530, 1252, 905)
chain(ax_d, mcmc_desolve_chain, 1.5)
style(ax_d, (-5.53, 7.0), x_major_d, x_minor_d, "%d")

caption_pos = [(325, 467), (938, 467), (326, 990), (955, 990)]
for text, (cx, cy) in zip(captions, caption_pos):
    fig.text(cx / W, 1 - cy / H, text, ha="center", va="center", fontsize=24, color="black")

fig.savefig("out.png", dpi=100, facecolor="white")
